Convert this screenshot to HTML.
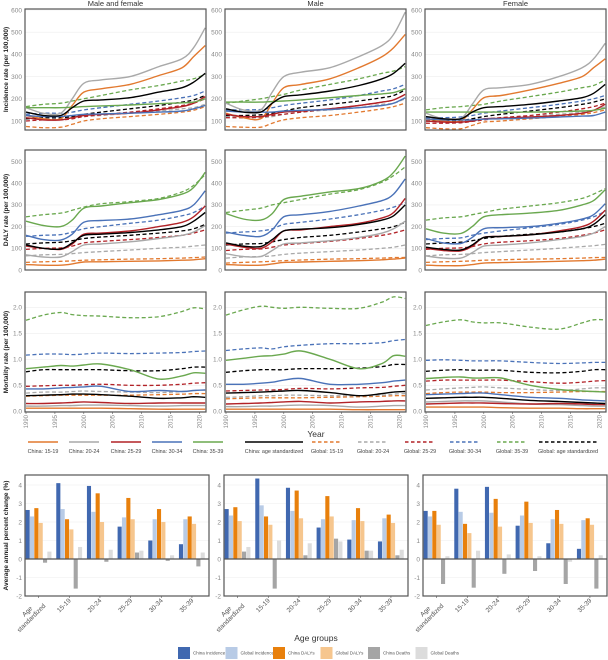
<!DOCTYPE html>
<html><head><meta charset="utf-8"><style>
body{margin:0;background:#fff;}
svg{display:block;font-family:"Liberation Sans",sans-serif;}
</style></head><body>
<svg id="chart" width="608" height="660" viewBox="0 0 608 660" xmlns="http://www.w3.org/2000/svg"></svg>
<script>
// ---------- data ----------
const years = [1990,1993,1996,1998,2000,2003,2008,2013,2017,2019,2021];
const seriesNames = ["China: 15-19","China: 20-24","China: 25-29","China: 30-34","China: 35-39","China: age standardized","Global: 15-19","Global: 20-24","Global: 25-29","Global: 30-34","Global: 35-39","Global: age standardized"];
const colTitles = ["Male and female","Male","Female"];
// order: c15,c20,c25,c30,c35,cAge,g15,g20,g25,g30,g35,gAge
const incBoth = [
[125,110,110,170,230,245,265,305,340,390,440],
[160,135,135,200,270,285,300,345,380,430,520],
[115,105,105,115,125,130,135,150,165,180,210],
[125,120,120,125,130,132,135,140,145,155,170],
[160,160,160,162,165,168,172,178,182,185,200],
[140,125,125,160,190,195,205,230,250,275,315],
[75,70,72,85,100,110,120,130,140,148,165],
[110,110,110,115,120,125,135,145,155,160,175],
[100,105,105,110,120,128,140,155,170,180,200],
[130,135,135,140,150,160,175,190,205,215,235],
[165,175,180,190,200,215,240,260,280,290,310],
[110,115,115,120,130,140,155,170,185,195,215]];
const incMale = [
[135,115,110,180,250,265,290,340,390,430,490],
[180,150,150,230,300,320,340,390,440,490,590],
[130,120,120,130,140,145,155,170,185,195,220],
[145,140,140,140,145,148,152,160,170,180,205],
[185,185,185,188,190,195,205,215,222,228,245],
[155,140,140,180,210,218,235,260,290,315,360],
[75,72,72,90,105,115,125,140,155,165,180],
[120,115,115,120,130,140,150,160,175,180,200],
[115,115,118,125,130,140,155,170,185,195,220],
[150,150,152,160,170,180,195,215,235,245,265],
[180,190,200,210,220,240,265,290,315,325,345],
[125,125,128,135,145,160,175,190,205,215,240]];
const incFemale = [
[110,100,100,150,205,215,240,270,300,340,380],
[135,110,110,175,240,250,265,300,340,380,450],
[100,95,95,100,110,112,118,125,135,148,175],
[110,105,105,105,108,110,113,118,122,125,140],
[140,140,140,140,140,140,140,142,145,148,158],
[120,110,110,140,160,165,175,190,205,225,265],
[70,65,65,80,95,100,110,120,130,138,150],
[105,100,100,105,110,115,122,130,140,148,165],
[90,90,92,98,105,115,125,140,155,165,180],
[115,115,118,125,135,145,160,175,190,200,215],
[150,160,165,170,175,190,210,230,250,260,285],
[100,100,102,110,120,130,145,160,175,185,200]];
const dalyBoth = [
[25,22,22,28,37,38,40,42,45,47,52],
[70,60,60,85,115,120,130,145,160,175,205],
[110,100,95,120,165,170,180,200,220,245,295],
[160,140,138,165,220,228,235,255,275,300,365],
[225,205,200,230,285,295,310,325,350,380,450],
[115,100,97,125,160,165,173,185,200,225,265],
[35,38,40,42,45,47,50,52,55,57,60],
[65,70,72,75,80,85,92,100,105,110,115],
[95,100,102,110,125,132,140,150,160,170,185],
[155,160,163,175,190,200,215,230,250,265,295],
[245,255,262,275,290,305,315,330,360,390,440],
[120,125,128,135,145,152,160,170,180,190,210]];
const dalyMale = [
[25,22,22,28,35,37,40,43,47,50,55],
[75,62,62,90,120,125,135,150,170,190,225],
[120,105,100,130,180,185,200,215,240,265,330],
[175,160,155,185,245,255,270,295,320,350,420],
[260,235,230,260,325,340,360,375,410,450,525],
[125,110,108,140,180,188,195,210,230,250,300],
[32,35,38,40,43,46,50,52,55,57,58],
[55,60,62,65,72,78,85,92,100,105,115],
[90,95,97,105,115,122,132,145,160,170,185],
[170,175,180,190,210,220,235,255,275,290,310],
[265,275,285,300,310,325,350,370,405,435,475],
[115,120,122,130,140,150,160,175,190,200,220]];
const dalyFemale = [
[22,20,20,25,32,34,37,40,43,45,50],
[65,55,55,80,110,115,125,140,155,170,200],
[100,90,88,110,150,155,162,180,200,225,275],
[145,125,122,150,190,195,200,215,235,255,305],
[190,170,168,200,245,255,262,275,300,320,370],
[105,95,92,115,150,155,162,175,190,210,255],
[35,38,40,42,45,47,50,52,55,57,58],
[65,70,72,75,80,85,92,100,108,112,118],
[95,100,102,108,120,128,135,145,160,170,185],
[140,145,148,160,170,180,195,210,230,245,270],
[230,240,245,255,265,280,295,310,330,350,375],
[120,125,128,135,145,155,165,175,190,200,215]];
const mortBoth = [
[0.06,0.06,0.06,0.06,0.06,0.06,0.05,0.04,0.04,0.04,0.04],
[0.10,0.10,0.11,0.11,0.12,0.12,0.11,0.10,0.11,0.11,0.11],
[0.15,0.15,0.16,0.17,0.18,0.17,0.15,0.16,0.16,0.16,0.16],
[0.43,0.43,0.45,0.46,0.47,0.48,0.38,0.40,0.38,0.40,0.41],
[0.82,0.85,0.88,0.87,0.89,0.91,0.80,0.62,0.68,0.74,0.73],
[0.30,0.31,0.32,0.33,0.33,0.32,0.29,0.25,0.26,0.28,0.27],
[0.29,0.30,0.31,0.31,0.31,0.31,0.31,0.32,0.33,0.34,0.34],
[0.35,0.37,0.37,0.38,0.39,0.38,0.37,0.36,0.38,0.40,0.41],
[0.48,0.49,0.50,0.50,0.51,0.52,0.50,0.50,0.52,0.54,0.55],
[1.08,1.10,1.10,1.09,1.10,1.12,1.11,1.12,1.13,1.15,1.16],
[1.75,1.85,1.90,1.86,1.84,1.83,1.80,1.82,1.92,1.99,1.97],
[0.76,0.80,0.80,0.80,0.80,0.80,0.78,0.78,0.82,0.85,0.85]];
const mortMale = [
[0.04,0.04,0.04,0.04,0.04,0.04,0.04,0.03,0.03,0.03,0.03],
[0.09,0.09,0.10,0.10,0.11,0.12,0.11,0.08,0.10,0.11,0.11],
[0.14,0.15,0.16,0.17,0.18,0.19,0.16,0.18,0.19,0.20,0.20],
[0.52,0.52,0.54,0.56,0.60,0.63,0.52,0.52,0.55,0.58,0.60],
[0.98,1.02,1.06,1.07,1.10,1.16,1.00,0.82,0.92,1.07,1.06],
[0.35,0.36,0.37,0.38,0.39,0.40,0.36,0.30,0.34,0.37,0.38],
[0.24,0.25,0.26,0.26,0.26,0.26,0.27,0.28,0.29,0.30,0.30],
[0.27,0.28,0.30,0.30,0.31,0.31,0.30,0.30,0.31,0.33,0.34],
[0.39,0.40,0.41,0.41,0.42,0.44,0.43,0.45,0.46,0.48,0.50],
[1.17,1.20,1.22,1.20,1.24,1.27,1.30,1.30,1.32,1.36,1.38],
[1.85,1.95,2.02,2.00,1.98,2.00,1.98,1.98,2.10,2.20,2.17],
[0.75,0.78,0.80,0.80,0.80,0.82,0.82,0.83,0.86,0.90,0.90]];
const mortFemale = [
[0.08,0.08,0.08,0.08,0.08,0.07,0.06,0.06,0.05,0.05,0.05],
[0.18,0.19,0.20,0.20,0.20,0.18,0.14,0.13,0.11,0.10,0.10],
[0.14,0.15,0.16,0.16,0.16,0.15,0.14,0.15,0.14,0.13,0.13],
[0.32,0.33,0.34,0.35,0.35,0.32,0.27,0.25,0.22,0.21,0.20],
[0.63,0.65,0.66,0.64,0.64,0.64,0.50,0.42,0.39,0.38,0.37],
[0.25,0.26,0.27,0.27,0.27,0.25,0.21,0.19,0.17,0.16,0.15],
[0.34,0.36,0.37,0.37,0.37,0.36,0.36,0.37,0.38,0.38,0.38],
[0.41,0.43,0.45,0.46,0.47,0.45,0.42,0.40,0.43,0.45,0.45],
[0.58,0.60,0.60,0.60,0.60,0.60,0.57,0.54,0.56,0.58,0.59],
[0.98,0.99,0.98,0.97,0.97,0.97,0.94,0.92,0.93,0.94,0.94],
[1.65,1.72,1.76,1.72,1.70,1.70,1.62,1.58,1.70,1.76,1.76],
[0.77,0.79,0.80,0.79,0.79,0.79,0.75,0.74,0.77,0.80,0.80]];
const incTicks = [100,200,300,400,500,600];
const dalyTicks = [0,100,200,300,400,500];
const mortTicks = [0,0.5,1.0,1.5,2.0];
const mortTickLabels = ["0.0","0.5","1.0","1.5","2.0"];
const yearTicks = [1990,1995,2000,2005,2010,2015,2020];
// bars
const ageGroups = ["Age standardized","15-19","20-24","25-29","30-34","35-39"];
const barSeriesNames = ["China Incidence","Global Incidence","China DALYs","Global DALYs","China Deaths","Global Deaths"];
const bothChinaInc = [2.65,4.1,3.95,1.75,1.0,0.8];
const bothGlobalInc = [2.3,2.7,2.55,2.25,2.15,2.15];
const bothChinaDaly = [2.75,2.15,3.55,3.3,2.7,2.3];
const bothGlobalDaly = [1.95,1.6,2.0,2.15,2.0,1.9];
const bothChinaDeath = [-0.2,-1.6,-0.15,0.35,-0.1,-0.4];
const bothGlobalDeath = [0.4,0.65,0.5,0.45,0.2,0.35];
const maleChinaInc = [2.7,4.35,3.85,1.7,1.05,0.95];
const maleGlobalInc = [2.35,2.9,2.6,2.15,2.1,2.2];
const maleChinaDaly = [2.8,2.3,3.7,3.4,2.75,2.4];
const maleGlobalDaly = [2.05,1.85,2.2,2.3,2.05,1.95];
const maleChinaDeath = [0.4,-1.6,0.2,1.1,0.45,0.2];
const maleGlobalDeath = [0.65,1.0,0.85,0.95,0.45,0.5];
const femChinaInc = [2.6,3.8,3.9,1.8,0.85,0.55];
const femGlobalInc = [2.3,2.55,2.5,2.35,2.15,2.1];
const femChinaDaly = [2.6,1.9,3.25,3.1,2.65,2.2];
const femGlobalDaly = [1.85,1.4,1.75,1.95,1.9,1.85];
const femChinaDeath = [-1.35,-1.55,-0.8,-0.65,-1.35,-1.6];
const femGlobalDeath = [0.15,0.45,0.25,0.15,-0.15,0.2];
const barTicks = [-2,-1,0,1,2,3,4];

// ---------- drawing ----------
const NS = "http://www.w3.org/2000/svg";
const svg = document.getElementById("chart");
function mk(tag, attrs, parent){const e=document.createElementNS(NS,tag);for(const k in attrs)e.setAttribute(k,attrs[k]);(parent||svg).appendChild(e);return e;}
function smoothPath(p){
  let d="M"+p[0][0].toFixed(1)+","+p[0][1].toFixed(1);
  for(let i=0;i<p.length-1;i++){
    const p0=p[Math.max(0,i-1)],p1=p[i],p2=p[i+1],p3=p[Math.min(p.length-1,i+2)];
    const c1x=p1[0]+(p2[0]-p0[0])/6,c1y=p1[1]+(p2[1]-p0[1])/6;
    const c2x=p2[0]-(p3[0]-p1[0])/6,c2y=p2[1]-(p3[1]-p1[1])/6;
    d+=` C${c1x.toFixed(1)},${c1y.toFixed(1)} ${c2x.toFixed(1)},${c2y.toFixed(1)} ${p2[0].toFixed(1)},${p2[1].toFixed(1)}`;
  }
  return d;
}
const lineColors = ["#e2792f","#a9a9a9","#b22227","#4a72b8","#6aa84f","#000000"];
const panelLefts = [25,225,425];
const PW = 181;
function xYear(L,yr){return L+1+(yr-1990)*5.78;}
const rows = [
 {data:[incBoth,incMale,incFemale], top:9, bottom:130, y:v=>121-(v-100)*0.222, ticks:incTicks, labels:incTicks.map(String), title:"Incidence rate (per 100,000)", name:"incidence"},
 {data:[dalyBoth,dalyMale,dalyFemale], top:150, bottom:270, y:v=>270-v*0.217, ticks:dalyTicks, labels:dalyTicks.map(String), title:"DALY rate (per 100,000)", name:"daly"},
 {data:[mortBoth,mortMale,mortFemale], top:292, bottom:412, y:v=>411.3-v*52, ticks:mortTicks, labels:mortTickLabels, title:"Mortality rate (per 100,000)", name:"mortality"}
];
colTitles.forEach((t,c)=>{
  const e=mk("text",{x:panelLefts[c]+PW/2,y:6,"font-size":"7.5","text-anchor":"middle",fill:"#333"});
  e.textContent=t;
  
  
});
rows.forEach((r,ri)=>{
  const yt=mk("text",{x:0,y:0,"font-size":"6.5","font-weight":"bold","text-anchor":"middle",fill:"#222",transform:`translate(8,${(r.top+r.bottom)/2}) rotate(-90)`});
  yt.textContent=r.title;
  
  
  r.data.forEach((series,c)=>{
    const L=panelLefts[c];
    const g=mk("g",{});
    
    
    r.ticks.forEach((tv,i)=>{
      const yy=r.y(tv);
      mk("line",{x1:L,x2:L+PW,y1:yy,y2:yy,stroke:"#ededed","stroke-width":0.6},g);
      const tl=mk("text",{x:L-3,y:yy+2.3,"font-size":"6.5","text-anchor":"end",fill:"#888"},g);
      tl.textContent=r.labels[i];
      
      
    });
    const order=[6,7,8,9,10,11,0,1,2,3,4,5];
    order.forEach(si=>{
      const vals=series[si];
      const pts=years.map((yr,i)=>[xYear(L,yr),r.y(vals[i])]);
      const dashed=si>=6;
      const p=mk("path",{d:smoothPath(pts),fill:"none",stroke:lineColors[si%6],"stroke-width":dashed?1.3:1.4,"stroke-dasharray":dashed?"4,2.5":"none","stroke-linejoin":"round"},g);
      
      
    });
    mk("rect",{x:L,y:r.top,width:PW,height:r.bottom-r.top,fill:"none",stroke:"#555","stroke-width":1.2},g);
    if(ri===2){
      yearTicks.forEach(yr=>{
        const xx=xYear(L,yr);
        mk("line",{x1:xx,x2:xx,y1:r.bottom,y2:r.bottom+2,stroke:"#555","stroke-width":0.6},g);
        const tl=mk("text",{x:0,y:0,"font-size":"6","text-anchor":"end",fill:"#888",transform:`translate(${xx+2},${r.bottom+3}) rotate(-90)`},g);
        tl.textContent=String(yr);
        
        
      });
    }
  });
});
const yearT=mk("text",{x:316,y:437,"font-size":"8.5","text-anchor":"middle",fill:"#333"});
yearT.textContent="Year";


// line legend
const legCx=[43,84,126,167,208,274,327,373,420,465,512,568];
seriesNames.forEach((n,i)=>{
  const g=mk("g",{});
  
  
  const w=(i===5||i===11)?58:30;
  mk("line",{x1:legCx[i]-w/2,x2:legCx[i]+w/2,y1:442,y2:442,stroke:lineColors[i%6],"stroke-width":1.4,"stroke-dasharray":i>=6?"3.5,2.5":"none"},g);
  const t=mk("text",{x:legCx[i],y:453,"font-size":"5.4","text-anchor":"middle",fill:"#444"},g);
  t.textContent=n;
});
// bar panels
const barColors=["#4068b0","#b8cbe6","#e8800c","#f6c68e","#a5a5a5","#dcdcdc"];
const barData=[
 [bothChinaInc,bothGlobalInc,bothChinaDaly,bothGlobalDaly,bothChinaDeath,bothGlobalDeath],
 [maleChinaInc,maleGlobalInc,maleChinaDaly,maleGlobalDaly,maleChinaDeath,maleGlobalDeath],
 [femChinaInc,femGlobalInc,femChinaDaly,femGlobalDaly,femChinaDeath,femGlobalDeath]];
const barLefts=[25,224,423], BW=184, BT=475, BB=596;
function yBar(v){return 559-v*18.5;}
const bt=mk("text",{x:0,y:0,"font-size":"6.5","font-weight":"bold","text-anchor":"middle",fill:"#222",transform:`translate(8,${(BT+BB)/2}) rotate(-90)`});
bt.textContent="Average annual percent change (%)";


barData.forEach((sets,c)=>{
  const L=barLefts[c];
  const g=mk("g",{});
  
  
  barTicks.forEach(tv=>{
    const yy=yBar(tv);
    mk("line",{x1:L,x2:L+BW,y1:yy,y2:yy,stroke:"#ededed","stroke-width":0.6},g);
    const tl=mk("text",{x:L-3,y:yy+2.3,"font-size":"6.5","text-anchor":"end",fill:"#888"},g);
    tl.textContent=String(tv);
    
    
  });
  const gw=BW/6;
  ageGroups.forEach((ag,gi)=>{
    sets.forEach((arr,k)=>{
      const v=arr[gi];
      const x=L+0.6+gi*gw+k*4.35;
      const y0=yBar(0), y1=yBar(v);
      const b=mk("rect",{x:x.toFixed(2),y:Math.min(y0,y1).toFixed(2),width:4.1,height:Math.abs(y1-y0).toFixed(2),fill:barColors[k]},g);
      
      
    });
    const cx=L+gi*gw+13.6;
    mk("line",{x1:cx,x2:cx,y1:BB,y2:BB+2,stroke:"#555","stroke-width":0.6},g);
    const lines=ag==="Age standardized"?["Age","standardized"]:[ag];
    const t=mk("text",{x:0,y:0,"font-size":"6.5","text-anchor":"end",fill:"#555",transform:`translate(${cx+2},${BB+5}) rotate(-45)`},g);
    lines.forEach((ln,li)=>{const ts=mk("tspan",{x:li===0&&lines.length>1?-11:0,dy:li===0?0:7.5},t);ts.textContent=ln;});
    
    
  });
  mk("line",{x1:L,x2:L+BW,y1:yBar(0),y2:yBar(0),stroke:"#555","stroke-width":1.2},g);
  mk("rect",{x:L,y:BT,width:BW,height:BB-BT,fill:"none",stroke:"#555","stroke-width":1.2},g);
});
const agT=mk("text",{x:316,y:641,"font-size":"8.5","text-anchor":"middle",fill:"#333"});
agT.textContent="Age groups";


barSeriesNames.forEach((n,i)=>{
  const g=mk("g",{});
  
  
  const x=178+i*47.5;
  mk("rect",{x:x,y:647,width:12,height:12,fill:barColors[i]},g);
  const t=mk("text",{x:x+15,y:654.5,"font-size":"4.5",fill:"#555"},g);
  t.textContent=n;
});
</script>
</body></html>
